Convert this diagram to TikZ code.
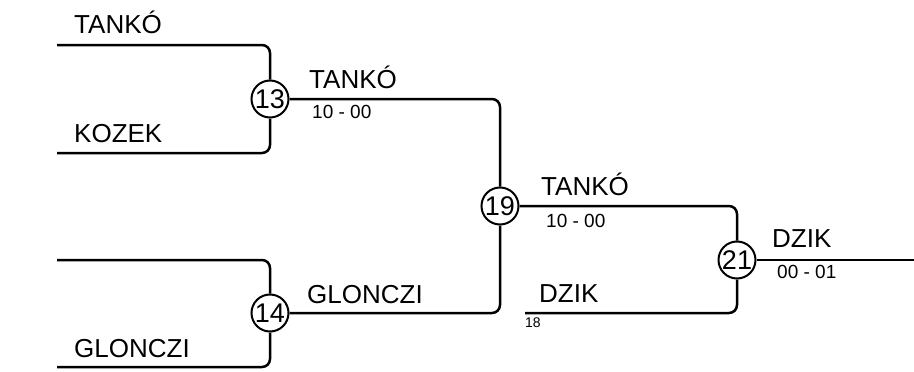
\documentclass[tikz,border=0pt]{standalone}
\usepackage{fontspec}
\setmainfont{Liberation Sans}
\begin{document}
\begin{tikzpicture}[x=1pt,y=-1pt,
  wire/.style={line width=2.5pt,rounded corners=8pt},
  seed/.style={circle,draw,line width=2pt,minimum size=37pt,inner sep=0pt,fill=white,font=\fontsize{27}{27}\selectfont},
  plyr/.style={anchor=base west,inner sep=0pt,font=\fontsize{26}{26}\selectfont},
  scorelbl/.style={anchor=base west,inner sep=0pt,font=\fontsize{19}{19}\selectfont},
  tinylbl/.style={anchor=base west,inner sep=0pt,font=\fontsize{14}{14}\selectfont}]
\useasboundingbox (0,0) rectangle (914,372);
% start points
\coordinate (s1) at (57,45);
\coordinate (s2) at (57,153);
\coordinate (s3) at (57,260);
\coordinate (s4) at (57,367);
\coordinate (s5) at (525,313);
\coordinate (fin) at (914,260);
% seeds
\node[seed] (c13) at (270,99) {13};
\node[seed] (c14) at (270,313) {14};
\node[seed] (c19) at (500,206) {19};
\node[seed] (c21) at (737,260) {21};
% wires
\draw[wire] (s1) -| (c13);
\draw[wire] (s2) -| (c13);
\draw[wire] (s3) -| (c14);
\draw[wire] (s4) -| (c14);
\draw[wire] (c13) -| (c19);
\draw[wire] (c14) -| (c19);
\draw[wire] (c19) -| (c21);
\draw[wire] (s5) -| (c21);
\draw[wire] (c21) -- (fin);
% labels
\node[plyr] (t1) at (74,33) {TANKÓ};
\node[plyr] (t2) at (74,142) {KOZEK};
\node[plyr] (t4) at (74,357) {GLONCZI};
\node[plyr] (t5) at (309,88) {TANKÓ};
\node[scorelbl] (r5) at (312,118) {10 - 00};
\node[plyr] (t6) at (307,303) {GLONCZI};
\node[plyr] (t7) at (541,195) {TANKÓ};
\node[scorelbl] (r7) at (546,227) {10 - 00};
\node[plyr] (t8) at (539,302) {DZIK};
\node[tinylbl] (r8) at (525,327) {18};
\node[plyr] (t9) at (772,247) {DZIK};
\node[scorelbl] (r9) at (777,278) {00 - 01};
\end{tikzpicture}
\end{document}
